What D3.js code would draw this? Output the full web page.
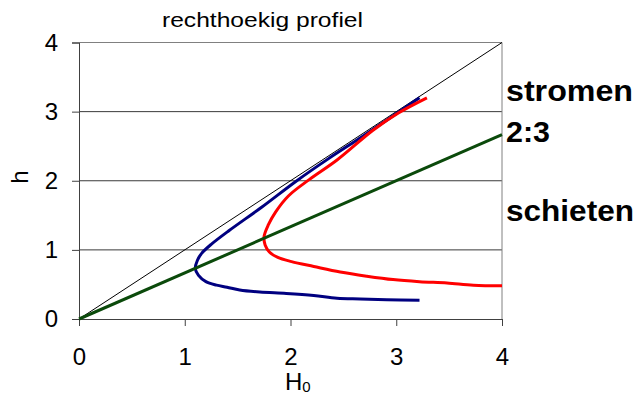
<!DOCTYPE html>
<html>
<head>
<meta charset="utf-8">
<script src="https://cdn.jsdelivr.net/npm/d3@7"></script>
<style>
  body { margin: 0; background: #fff; }
  svg text { font-family: "Liberation Sans", Arial, sans-serif; fill: #000; }
</style>
</head>
<body>
<div id="chart"></div>
<script>
// energiehoogte H0 tegen waterdiepte h, rechthoekig profiel
var xTicks = [0, 1, 2, 3, 4];
var yTicks = [0, 1, 2, 3, 4];

// blauwe kromme (kleinere afvoer): H0 en h, van boven naar beneden
var blueH0 = [3.22, 2.95, 2.68, 2.36, 2.05, 1.73, 1.42, 1.25, 1.16, 1.12, 1.10, 1.13, 1.20, 1.30, 1.40, 1.52, 1.71, 1.96, 2.22, 2.44, 2.66, 2.91, 3.22];
var blueH  = [3.20, 2.92, 2.64, 2.32, 1.99, 1.62, 1.28, 1.08, 0.95, 0.85, 0.73, 0.63, 0.54, 0.49, 0.46, 0.42, 0.39, 0.37, 0.34, 0.30, 0.29, 0.28, 0.27];

// rode kromme (grotere afvoer)
var redH0 = [3.29, 3.02, 2.78, 2.44, 2.18, 1.98, 1.86, 1.79, 1.75, 1.76, 1.80, 1.88, 2.01, 2.22, 2.47, 2.72, 2.97, 3.22, 3.48, 3.73, 4.00];
var redH  = [3.20, 2.98, 2.73, 2.30, 2.02, 1.78, 1.55, 1.36, 1.19, 1.07, 0.97, 0.89, 0.83, 0.76, 0.68, 0.62, 0.57, 0.54, 0.52, 0.49, 0.48];

// rechte lijnen: h = H0 en h = 2/3 H0
var diagH0 = [0, 4];
var diagH  = [0, 4];
var critH0 = [0, 4];
var critH  = [0, 2.667];

var labels = ["stromen", "2:3", "schieten"];

var width = 638, height = 395;
var margin = {left: 79, right: 136, top: 42.5, bottom: 76};

var svg = d3.select('#chart').append('svg')
  .attr('width', width)
  .attr('height', height);

var x = d3.scaleLinear().domain([0, 4]).range([margin.left, width - margin.right]);
var y = d3.scaleLinear().domain([0, 4]).range([height - margin.bottom, margin.top]);

// rasterlijnen
svg.append('g')
  .selectAll('line')
  .data(yTicks.filter(function(d){ return d > 0 && d < 4; }))
  .enter().append('line')
  .attr('x1', x(0)).attr('x2', x(4))
  .attr('y1', function(d){ return y(d); })
  .attr('y2', function(d){ return y(d); })
  .attr('stroke', '#3a3a3a')
  .attr('stroke-width', 1);

// boven- en rechterrand
svg.append('line')
  .attr('x1', x(0)).attr('x2', x(4)).attr('y1', y(4)).attr('y2', y(4))
  .attr('stroke', '#808080');
svg.append('line')
  .attr('x1', x(4)).attr('x2', x(4)).attr('y1', y(0)).attr('y2', y(4))
  .attr('stroke', '#808080');

// assen
var yAxis = svg.append('g')
  .attr('transform', 'translate(' + x(0) + ',0)')
  .call(d3.axisLeft(y).tickValues(yTicks).tickSize(7).tickPadding(14).tickFormat(d3.format('d')));
var xAxis = svg.append('g')
  .attr('transform', 'translate(0,' + y(0) + ')')
  .call(d3.axisBottom(x).tickValues(xTicks).tickSize(7).tickPadding(22).tickFormat(d3.format('d')));

[xAxis, yAxis].forEach(function(ax){
  ax.select('.domain').attr('stroke', '#404040');
  ax.selectAll('.tick line').attr('stroke', '#404040');
  ax.selectAll('.tick text')
    .attr('font-size', 24)
    .attr('font-family', '"Liberation Sans", Arial, sans-serif')
    .attr('fill', '#000');
});

var line = d3.line()
  .x(function(d){ return x(d[0]); })
  .y(function(d){ return y(d[1]); });
var smooth = d3.line()
  .x(function(d){ return x(d[0]); })
  .y(function(d){ return y(d[1]); })
  .curve(d3.curveCatmullRom.alpha(0.5));

function zip(a, b){
  return a.map(function(v, i){ return [v, b[i]]; });
}

svg.append('path')
  .attr('d', line(zip(diagH0, diagH)))
  .attr('fill', 'none').attr('stroke', '#000').attr('stroke-width', 1);

svg.append('path')
  .attr('d', smooth(zip(blueH0, blueH)))
  .attr('fill', 'none').attr('stroke', '#000080').attr('stroke-width', 3)
  .attr('stroke-linejoin', 'round');

svg.append('path')
  .attr('d', smooth(zip(redH0, redH)))
  .attr('fill', 'none').attr('stroke', '#ff0000').attr('stroke-width', 3)
  .attr('stroke-linejoin', 'round');

svg.append('path')
  .attr('d', line(zip(critH0, critH)))
  .attr('fill', 'none').attr('stroke', '#0b4a0b').attr('stroke-width', 3);

// titel
svg.append('text')
  .attr('x', 162).attr('y', 27)
  .attr('font-size', 21)
  .attr('textLength', 201).attr('lengthAdjust', 'spacingAndGlyphs')
  .text('rechthoekig profiel');

// astitels
svg.append('text')
  .attr('transform', 'translate(28,177) rotate(-90)')
  .attr('text-anchor', 'middle')
  .attr('font-size', 24)
  .text('h');

var xt = svg.append('text')
  .attr('x', 285).attr('y', 390)
  .attr('font-size', 24);
xt.append('tspan').text('H');
xt.append('tspan').attr('font-size', 15).attr('dy', 2).text('0');

// tekst rechts
var labelY = [101, 142, 221];
var labelW = [127, 44, 128];
svg.append('g')
  .selectAll('text')
  .data(labels)
  .enter().append('text')
  .attr('x', 506)
  .attr('y', function(d, i){ return labelY[i]; })
  .attr('font-size', 29)
  .attr('font-weight', 'bold')
  .attr('textLength', function(d, i){ return labelW[i]; })
  .attr('lengthAdjust', 'spacingAndGlyphs')
  .text(function(d){ return d; });
</script>
</body>
</html>
